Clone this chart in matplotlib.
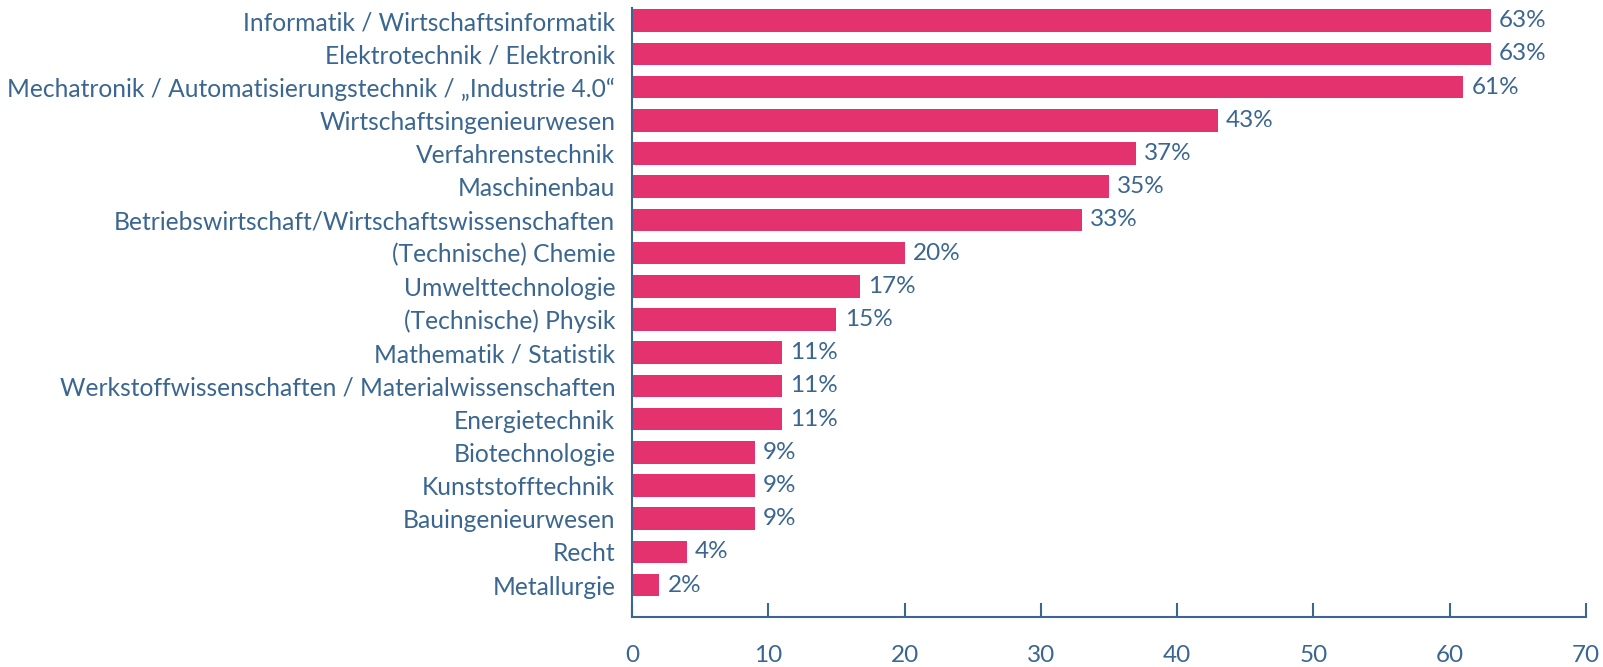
import matplotlib.pyplot as plt

# Daten (Anteil in %)
faecher = [
    "Informatik / Wirtschaftsinformatik",
    "Elektrotechnik / Elektronik",
    "Mechatronik / Automatisierungstechnik / \u201eIndustrie 4.0\u201c",
    "Wirtschaftsingenieurwesen",
    "Verfahrenstechnik",
    "Maschinenbau",
    "Betriebswirtschaft/Wirtschaftswissenschaften",
    "(Technische) Chemie",
    "Umwelttechnologie",
    "(Technische) Physik",
    "Mathematik / Statistik",
    "Werkstoffwissenschaften / Materialwissenschaften",
    "Energietechnik",
    "Biotechnologie",
    "Kunststofftechnik",
    "Bauingenieurwesen",
    "Recht",
    "Metallurgie",
]
werte = [63, 63, 61, 43, 37, 35, 33, 20, 16.7, 15, 11, 11, 11, 9, 9, 9, 4, 2]
beschriftung = ["63%", "63%", "61%", "43%", "37%", "35%", "33%", "20%", "17%",
                "15%", "11%", "11%", "11%", "9%", "9%", "9%", "4%", "2%"]
x_ticks = [0, 10, 20, 30, 40, 50, 60, 70]

pink = "#E3326E"
blau = "#3A6690"

plt.rcParams['font.family'] = ['Lato', 'DejaVu Sans']

fig = plt.figure(figsize=(16.03, 6.67), dpi=100)
ax = fig.add_axes([632 / 1603, 50 / 667, (1586 - 632) / 1603, (617 - 8) / 667])

pos = list(range(len(faecher)))
ax.barh(pos, werte, height=0.68, color=pink)

for p, w, t in zip(pos, werte, beschriftung):
    ax.text(w + 0.6, p, t, va="center", ha="left", fontsize=17.5, color=blau)

ax.set_xlim(0, 70)
ax.set_ylim(17.96, -0.38)
ax.set_yticks(pos)
ax.set_yticklabels(faecher, fontsize=17.7, color=blau)
ax.set_xticks(x_ticks)
ax.set_xticklabels([str(v) for v in x_ticks], fontsize=17.5, color=blau)

ax.tick_params(axis="y", length=0, pad=12)
ax.tick_params(axis="x", direction="in", length=10, width=1.5, color=blau, pad=20)

for s in ["top", "right"]:
    ax.spines[s].set_visible(False)
for s in ["left", "bottom"]:
    ax.spines[s].set_color(blau)
    ax.spines[s].set_linewidth(1.5)

plt.savefig("out.png", dpi=100)
